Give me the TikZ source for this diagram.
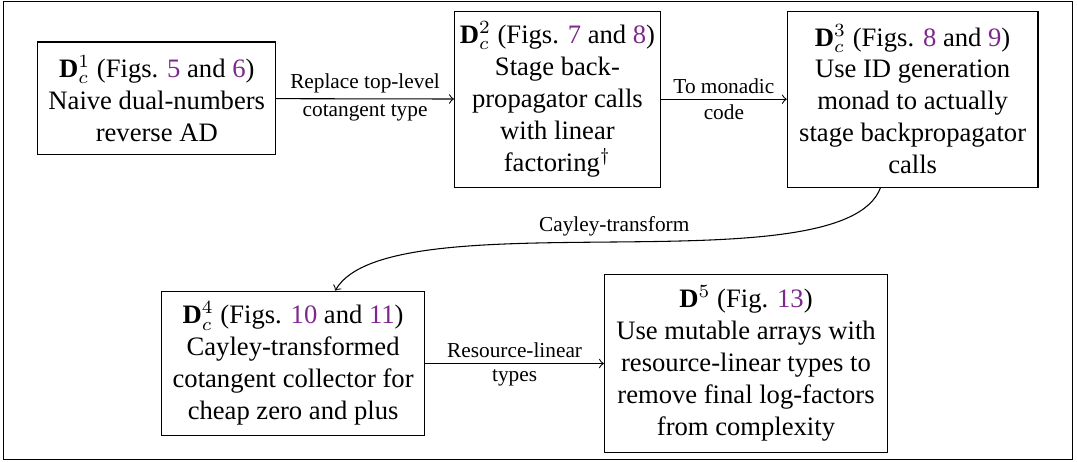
\documentclass[tikz,border=0pt]{standalone}
\usepackage{fontspec}
\setmainfont{Liberation Serif}
\usepackage{tikz}
\definecolor{figref}{RGB}{125,40,140}
\newcommand{\fref}[1]{\textcolor{figref}{#1}}

\begin{document}
\begin{tikzpicture}[stage/.style={rectangle, draw, align=center, inner sep=0pt}, lbl/.style={font=\footnotesize, inner sep=2pt}]
   \useasboundingbox (0,0) rectangle (14.22,6.10);
   \draw (0.05,0.03) rectangle (14.16,6.08);
   \node[stage, minimum width=3.14cm, minimum height=1.49cm] (d1) at (2.07,4.80) {$\mathbf{D}^1_c$ (Figs. \fref{5} and \fref{6})\\Naive dual-numbers\\reverse AD};
   \node[stage, minimum width=2.72cm, minimum height=2.32cm] (d2) at (7.36,4.79) {$\mathbf{D}^2_c$ (Figs. \fref{7} and \fref{8})\\Stage back-\\propagator calls\\with linear\\factoring$^\dagger$};
   \node[stage, minimum width=3.31cm, minimum height=2.32cm] (d3) at (12.05,4.79) {$\mathbf{D}^3_c$ (Figs. \fref{8} and \fref{9})\\Use ID generation\\monad to actually\\stage backpropagator\\calls};
   \node[stage, minimum width=3.48cm, minimum height=1.91cm] (d4) at (3.87,1.30) {$\mathbf{D}^4_c$ (Figs. \fref{10} and \fref{11})\\Cayley-transformed\\cotangent collector for\\cheap zero and plus};
   \node[stage, minimum width=3.74cm, minimum height=2.34cm] (d5) at (9.85,1.30) {$\mathbf{D}^5$ (Fig. \fref{13})\\Use mutable arrays with\\resource-linear types to\\remove final log-factors\\from complexity};
   \draw[->] (d1) -- node[lbl, above] {Replace top-level} node[lbl, below] {cotangent type} (d2);
   \draw[->] (d2) -- node[lbl, above] {To monadic} node[lbl, below] {code} (d3);
   \draw[->] (d3) to[out=250, in=60, looseness=0.5] node[lbl, above] {Cayley-transform} (d4);
   \draw[->] (d4) -- node[lbl, above] {Resource-linear} node[lbl, below] {types} (d5);
\end{tikzpicture}
\end{document}
